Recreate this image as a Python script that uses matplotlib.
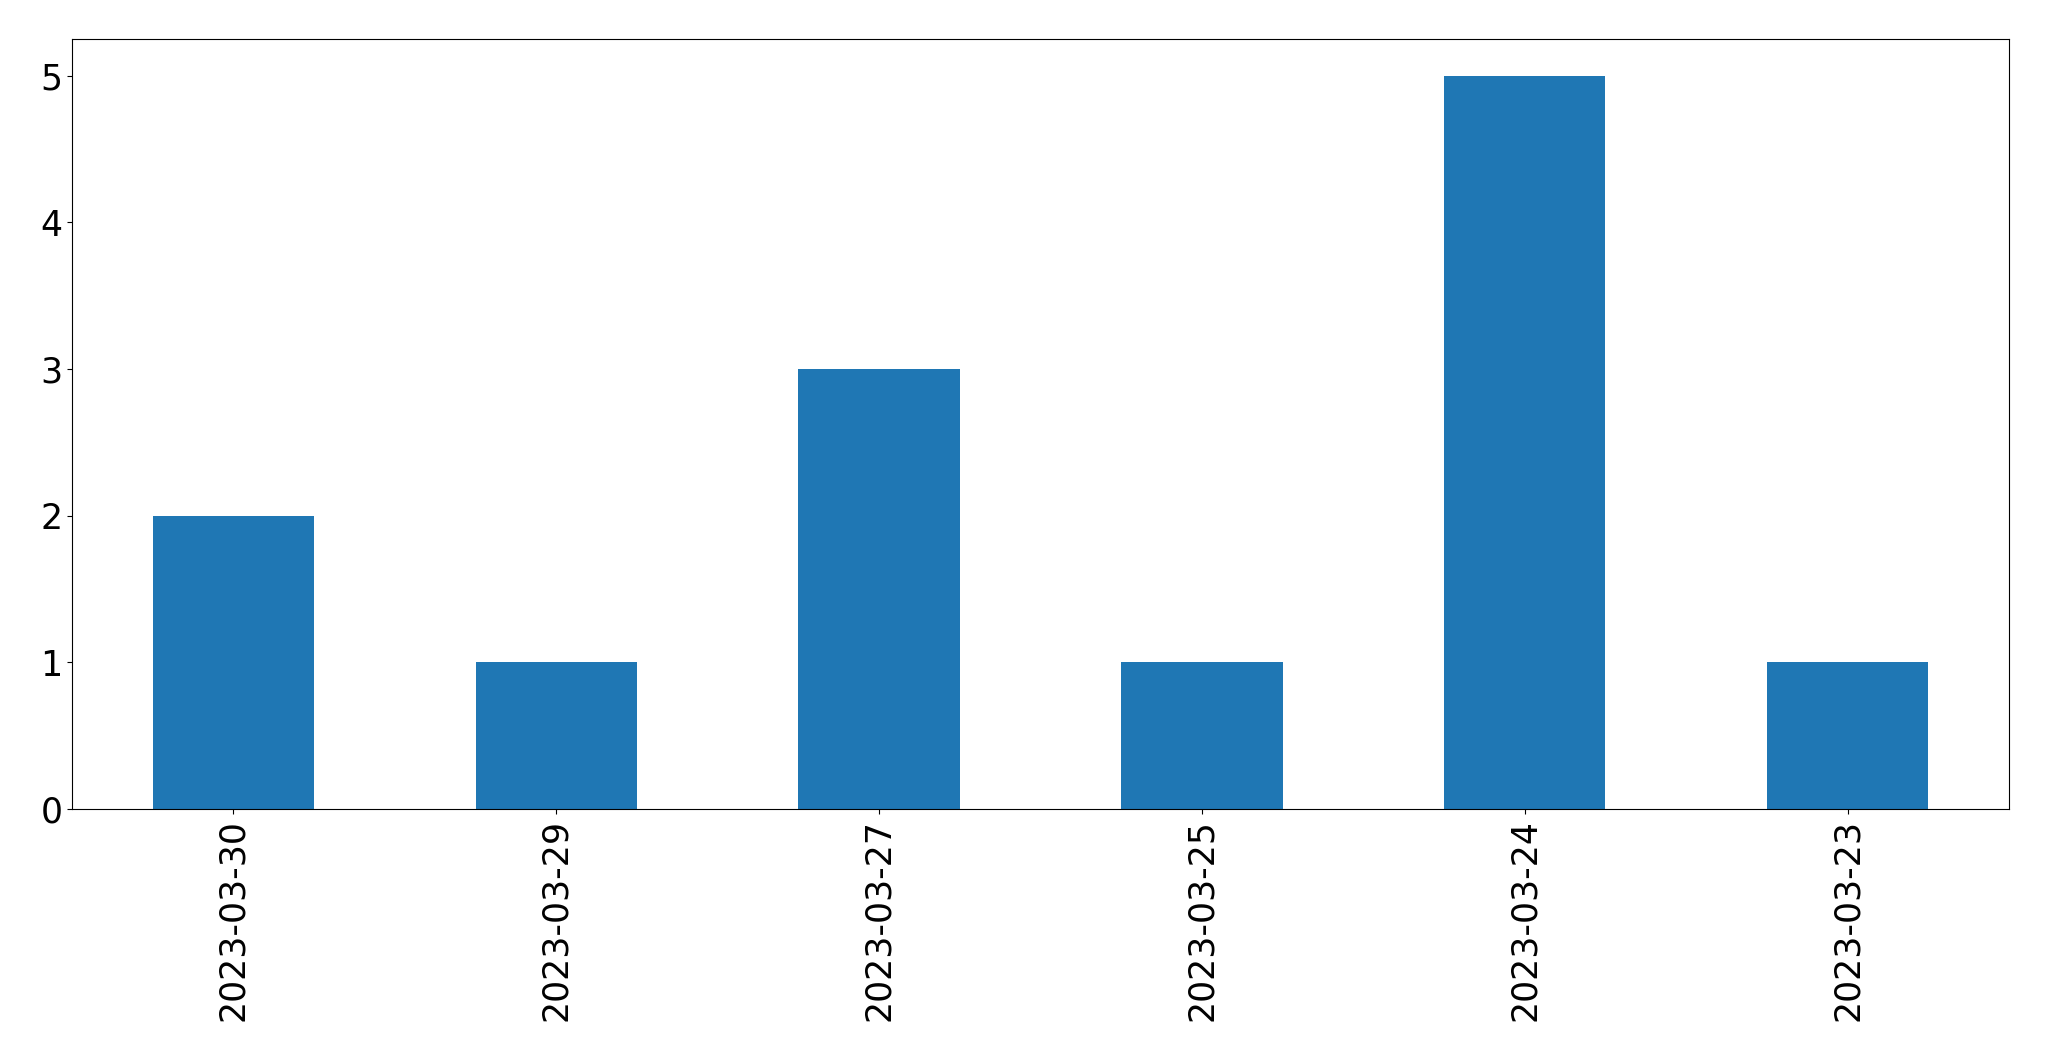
import matplotlib
matplotlib.use("Agg")
import matplotlib.pyplot as plt
import pandas as pd

dates = ["2023-03-30", "2023-03-29", "2023-03-27", "2023-03-25", "2023-03-24", "2023-03-23"]
counts = [2, 1, 3, 1, 5, 1]

fig = plt.figure(figsize=(20.49, 10.61), dpi=100)
ax = fig.add_subplot(111)
fig.subplots_adjust(left=72/2049, right=2009/2049, top=1-39/1061, bottom=1-809/1061)

s = pd.Series(counts, index=dates)
s.plot(kind="bar", ax=ax, color="#1f77b4", fontsize=25)
ax.set_xlabel("")
ax.set_ylim(0, 5.25)

fig.savefig("out.png", dpi=100)
